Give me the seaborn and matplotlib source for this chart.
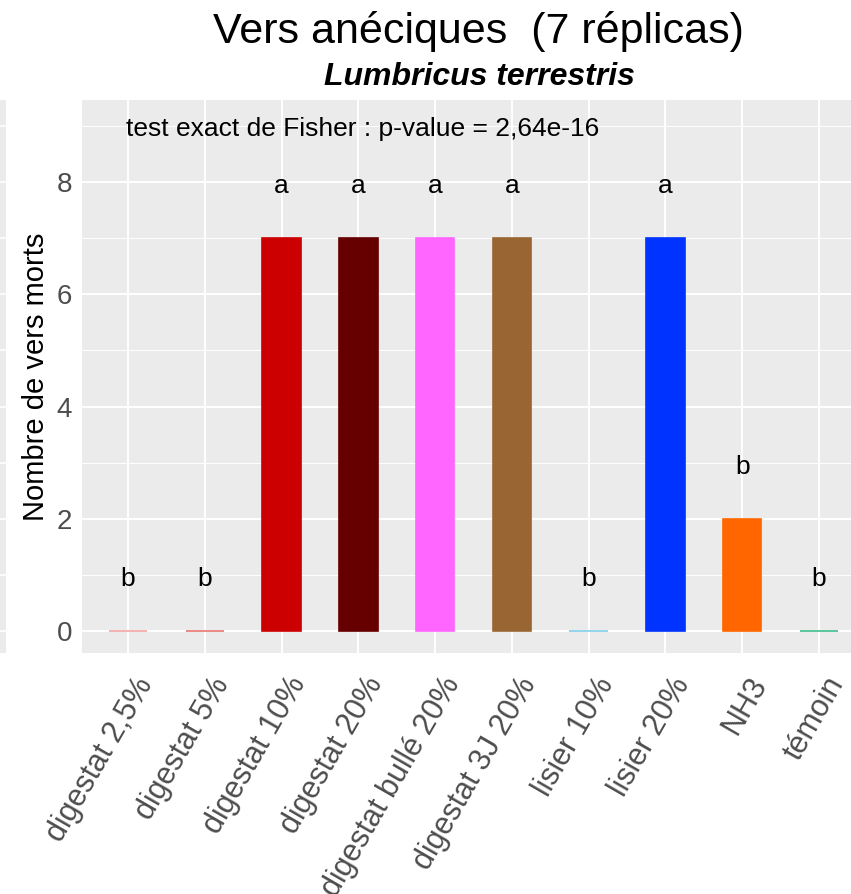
import matplotlib
matplotlib.use("Agg")
import matplotlib.pyplot as plt
import matplotlib.transforms as mtransforms
import seaborn as sns
import pandas as pd
from matplotlib.ticker import MultipleLocator

# Treatments, dead-worm counts (out of 7 replicates) and significance groups
traitements = ["digestat 2,5%", "digestat 5%", "digestat 10%", "digestat 20%",
               "digestat bullé 20%", "digestat 3J 20%", "lisier 10%", "lisier 20%",
               "NH3", "témoin"]
morts = [0, 0, 7, 7, 7, 7, 0, 7, 2, 0]
groupes = ["b", "b", "a", "a", "a", "a", "b", "a", "b", "b"]
couleurs = ["#F4A3A3", "#E8776E", "#CC0000", "#660000", "#FF66FF",
            "#996633", "#7FCFEA", "#0033FF", "#FF6600", "#3DBE8C"]

titre = "Vers anéciques  (7 réplicas)"
sous_titre = "Lumbricus terrestris"
note = "test exact de Fisher : p-value = 2,64e-16"

df = pd.DataFrame({"traitement": traitements, "morts": morts})

sns.set_theme(style="darkgrid")
plt.rcParams["font.family"] = ["Liberation Sans", "DejaVu Sans"]

W, H = 851, 894
fig = plt.figure(figsize=(W / 100, H / 100), dpi=100)
fig.patch.set_facecolor("white")

x0, x1, ytop, ybot = 82, 865, 100, 653
ax = fig.add_axes([x0 / W, 1 - ybot / H, (x1 - x0) / W, (ybot - ytop) / H])
ax.set_facecolor("#EBEBEB")

sns.barplot(data=df, x="traitement", y="morts", hue="traitement",
            palette=dict(zip(traitements, couleurs)), width=0.5,
            legend=False, ax=ax, saturation=1)
for patch, c in zip(ax.patches, couleurs):
    patch.set_edgecolor(c)
    patch.set_linewidth(1.2)

ymin, ymax = -0.39, 9.46
ax.set_xlim(-0.6, len(traitements) - 0.4)
ax.set_ylim(ymin, ymax)
ax.yaxis.set_major_locator(MultipleLocator(2))
ax.yaxis.set_minor_locator(MultipleLocator(1))
ax.grid(which="major", color="white", linewidth=1.4)
ax.grid(which="minor", axis="y", color="white", linewidth=0.7)
ax.set_axisbelow(True)
for s in ax.spines.values():
    s.set_visible(False)

# Significance letters above bars
for i, (v, g) in enumerate(zip(morts, groupes)):
    ax.text(i, v + 0.92, g, ha="center", va="center", fontsize=19, color="black")

ax.text(3.05, 8.95, note, ha="center", va="center", fontsize=19, color="black")

ax.tick_params(axis="both", which="major", length=4, width=1, color="#333333",
               labelcolor="#4D4D4D", labelsize=20, pad=3)
ax.tick_params(axis="y", which="minor", length=0)
ax.set_xlabel("")
ax.set_ylabel("Nombre de vers morts", fontsize=21, color="black", labelpad=5)
ax.set_xticks(range(len(traitements)))
ax.set_xticklabels(traitements, rotation=60, ha="right", va="top",
                   rotation_mode="anchor", fontsize=22, color="#4D4D4D")
shift = mtransforms.ScaledTranslation(5 / 100, -9 / 100, fig.dpi_scale_trans)
for lab in ax.get_xticklabels():
    lab.set_transform(lab.get_transform() + shift)

cx = (x0 + x1) / 2 / W
fig.text(cx + 5 / W, 1 - 32 / H, titre, ha="center", va="center", fontsize=31, color="black")
fig.text(cx + 6 / W, 1 - 77 / H, sous_titre, ha="center", va="center", fontsize=23,
         fontweight="bold", fontstyle="italic", color="black")

# Edge of a neighbouring panel on the far left
side = fig.add_axes([0, 1 - ybot / H, 6 / W, (ybot - ytop) / H])
side.set_facecolor("#EBEBEB")
side.set_ylim(ymin, ymax)
side.set_xlim(0, 1)
side.set_xticks([])
side.yaxis.set_major_locator(MultipleLocator(1))
side.tick_params(axis="y", length=0, labelleft=False)
side.grid(axis="y", color="white", linewidth=1.2)
side.grid(axis="x", visible=False)
for s in side.spines.values():
    s.set_visible(False)

fig.savefig("out.png", dpi=100)
